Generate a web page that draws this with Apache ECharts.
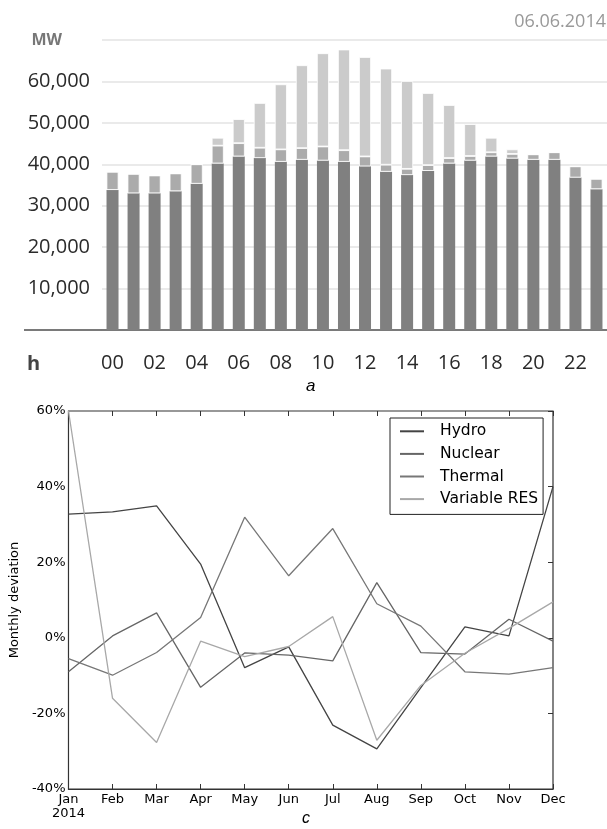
<!DOCTYPE html>
<html>
<head>
<meta charset="utf-8">
<script src="https://cdn.jsdelivr.net/npm/echarts@6/dist/echarts.min.js"></script>
<style>
  html, body { margin: 0; padding: 0; background: #fff; }
  #chart { width: 607px; height: 829px; }
</style>
</head>
<body>
<div id="chart"></div>
<script>
// top panel: hourly load, MW (stacked segments)
const hours = ['00','01','02','03','04','05','06','07','08','09','10','11',
               '12','13','14','15','16','17','18','19','20','21','22','23'];
const baseMW = [33800,33000,33000,33500,35300,40200,41900,41500,40600,41100,40900,40600,
                39500,38200,37400,38400,40200,40900,41900,41400,41100,41100,36800,34000];
const midMW  = [4400,4700,4300,4300,4700,4300,3200,2500,3000,2800,3400,2800,
                2400,1700,1500,1400,1300,1100,1000,1100,1300,1800,2700,2500];
const topMW  = [0,0,0,0,0,1900,5800,10800,15700,20000,22500,24300,
                24000,23200,21200,17400,12800,7700,3500,1100,0,0,0,0];
const mwTicks = [0,10000,20000,30000,40000,50000,60000,70000];

// bottom panel: monthly deviation, %
const months = ['Jan','Feb','Mar','Apr','May','Jun','Jul','Aug','Sep','Oct','Nov','Dec'];
const hydro       = [32.7,33.3,34.9,19.5,-7.9,-2.4,-23.1,-29.4,-13.2,2.9,0.5,40];
const nuclear     = [-9.0,0.5,6.6,-13.1,-4.0,-4.6,-6.1,14.6,-3.9,-4.3,4.9,-0.9];
const thermal     = [-5.5,-9.9,-3.9,5.4,31.9,16.4,28.9,9.0,3.1,-9.0,-9.6,-7.9];
const variableRes = [60,-16.0,-27.7,-0.9,-5.0,-2.3,5.6,-27.1,-12.6,-4.1,2.5,9.5];
const pctTicks = [-40,-20,0,20,40,60];

const topFont = 'Open Sans';
const botFont = 'DejaVu Sans';

const chart = echarts.init(document.getElementById('chart'));

function lineSeries(name, data, color) {
  return {
    name: name, type: 'line', xAxisIndex: 1, yAxisIndex: 1,
    data: data, symbol: 'none', color: color,
    lineStyle: { color: color, width: 1.3 }, animation: false
  };
}

const option = {
  backgroundColor: '#fff',
  animation: false,
  grid: [
    { left: 102, top: 40, width: 506, height: 290 },
    { left: 65, top: 411, width: 488, height: 378,
      show: true, borderColor: '#333', borderWidth: 1.2 }
  ],
  legend: {
    left: 390, top: 418,
    orient: 'vertical',
    data: ['Hydro', 'Nuclear', 'Thermal', 'Variable RES'],
    backgroundColor: '#fff',
    borderColor: '#222', borderWidth: 1,
    padding: [2, 5, 4, 10],
    itemGap: 0,
    itemWidth: 24, itemHeight: 2,
    icon: 'rect',
    textStyle: { fontFamily: botFont, fontSize: 15.5, color: '#000',
                 lineHeight: 22.6, padding: [0, 0, 0, 11] }
  },
  xAxis: [
    {
      type: 'category', gridIndex: 0, data: hours,
      axisLine: { lineStyle: { color: '#7a7a7a', width: 2 } },
      axisTick: { show: false },
      axisLabel: { interval: 1, margin: 23, fontFamily: topFont,
                   fontSize: 20, color: '#2a2a2a' }
    },
    {
      type: 'category', gridIndex: 1, data: months, boundaryGap: false,
      axisLine: { onZero: false, lineStyle: { color: '#333', width: 1.2 } },
      axisTick: { inside: true, length: 5, interval: 0, lineStyle: { color: '#333' } },
      axisLabel: { interval: 0, margin: 4, fontFamily: botFont, fontSize: 13,
                   color: '#000', lineHeight: 14,
                   formatter: v => v === 'Jan' ? 'Jan\n2014' : v }
    },
    {
      type: 'category', gridIndex: 1, data: months, boundaryGap: false,
      position: 'top',
      axisLine: { show: false, onZero: false },
      axisTick: { inside: true, length: 5, interval: 0, lineStyle: { color: '#333' } },
      axisLabel: { show: false }
    }
  ],
  yAxis: [
    {
      type: 'value', gridIndex: 0, min: mwTicks[0], max: mwTicks[mwTicks.length - 1],
      interval: 10000,
      axisLine: { show: false }, axisTick: { show: false },
      splitLine: { lineStyle: { color: '#e3e3e3', width: 1.5 } },
      axisLabel: {
        margin: 12, fontFamily: topFont, fontSize: 20, color: '#2a2a2a',
        formatter: v => {
          if (v === 0) return '';
          if (v === 70000) return '{mw|MW}';
          return v.toLocaleString('en-US');
        },
        rich: { mw: { fontFamily: topFont, fontWeight: 'bold', fontSize: 16,
                      color: '#777', padding: [0, 28, 0, 0] } }
      }
    },
    {
      type: 'value', gridIndex: 1, min: pctTicks[0], max: pctTicks[pctTicks.length - 1],
      interval: 20,
      name: 'Monthly deviation', nameLocation: 'middle', nameGap: 42,
      nameTextStyle: { fontFamily: botFont, fontSize: 13, color: '#000' },
      axisLine: { onZero: false, lineStyle: { color: '#333', width: 1.2 } },
      axisTick: { inside: true, length: 5, lineStyle: { color: '#333' } },
      splitLine: { show: false },
      axisLabel: { margin: 3, fontFamily: botFont, fontSize: 13, color: '#000',
                   formatter: '{value}%' }
    },
    {
      type: 'value', gridIndex: 1, min: pctTicks[0], max: pctTicks[pctTicks.length - 1],
      interval: 20, position: 'right',
      axisLine: { show: false, onZero: false },
      axisTick: { show: true, inside: true, length: 5, lineStyle: { color: '#333' } },
      splitLine: { show: false },
      axisLabel: { show: false }
    }
  ],
  series: [
    { type: 'bar', stack: 'mw', data: baseMW, barWidth: 12,
      itemStyle: { color: '#808080' } },
    { type: 'bar', stack: 'mw', data: midMW, barWidth: 12,
      itemStyle: { color: '#ababab', borderColor: '#fff', borderWidth: 0.8 } },
    { type: 'bar', stack: 'mw', data: topMW, barWidth: 12,
      itemStyle: { color: '#cbcbcb', borderColor: '#fff', borderWidth: 0.8 } },
    lineSeries('Hydro', hydro, '#444'),
    lineSeries('Nuclear', nuclear, '#666'),
    lineSeries('Thermal', thermal, '#777'),
    lineSeries('Variable RES', variableRes, '#a8a8a8')
  ],
  graphic: [
    { type: 'line', shape: { x1: 24, y1: 330, x2: 102, y2: 330 },
      style: { stroke: '#7a7a7a', lineWidth: 2 } },
    { type: 'text', left: 27, top: 354,
      style: { text: 'h', fontFamily: topFont, fontWeight: 'bold', fontSize: 20, fill: '#444' } },
    { type: 'text', right: 1, top: 13,
      style: { text: '06.06.2014', fontFamily: topFont, fontSize: 18, fill: '#999' } },
    { type: 'text', left: 306, top: 378,
      style: { text: 'a', fontFamily: 'Liberation Sans', fontStyle: 'italic', fontSize: 17, fill: '#000' } },
    { type: 'text', left: 302, top: 811,
      style: { text: 'c', fontFamily: 'Liberation Sans', fontStyle: 'italic', fontSize: 16, fill: '#000' } }
  ]
};

chart.setOption(option);
</script>
</body>
</html>
